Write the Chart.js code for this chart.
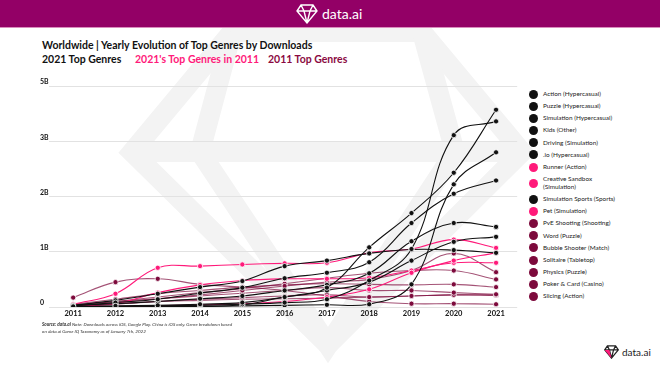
<!DOCTYPE html>
<html>
<head>
<meta charset="utf-8">
<script src="https://cdn.jsdelivr.net/npm/chart.js@4.4.1/dist/chart.umd.min.js"></script>
<style>
  body { margin: 0; width: 660px; height: 366px; background: #fff; font-family: Lato, "Noto Sans", sans-serif; position: relative; overflow: hidden; }
  .header { position: absolute; left: 0; top: 0; width: 660px; height: 27px; background: #930066; border-bottom: 1px solid #d98cbd; }
  .header .brand { position: absolute; left: 322px; top: 5px; color: #fff; font-size: 14px; }
  .title { position: absolute; left: 42px; top: 39px; font-size: 10.5px; font-weight: 700; color: #111; white-space: nowrap; }
  .sub { position: absolute; top: 53px; font-size: 10.5px; font-weight: 700; white-space: nowrap; }
  #wrap { position: absolute; left: 0; top: 68px; width: 522px; height: 256px; }
  #legend { position: absolute; left: 529px; top: 89.5px; font-size: 6.4px; color: #222; }
  #legend .item { display: flex; align-items: center; margin-bottom: 3.2px; }
  #legend .dot { width: 9px; height: 9px; border-radius: 50%; margin-right: 5px; flex: none; }
  #legend .txt { width: 77px; line-height: 8.3px; }
  .note { position: absolute; left: 42px; top: 321px; font-size: 4.6px; font-style: italic; color: #333; line-height: 7px; }
  .foot { position: absolute; left: 622px; top: 346px; font-size: 10px; color: #222; }
</style>
</head>
<body>
<svg style="position:absolute;left:0;top:0" width="660" height="366">
  <g fill="none" stroke="#f3f3f3" stroke-width="20" stroke-linejoin="miter">
    <path d="M232,32 L422,32 L522,152 L328,345 L132,152 Z"/>
    <path d="M132,152 L522,152"/>
    <path d="M232,32 L200,152 L328,345 L455,152 L422,32"/>
  </g>
</svg>
<div class="header">
  <svg style="position:absolute;left:296px;top:4px" width="22" height="20" viewBox="0 0 22 20">
    <path d="M5,1 L17,1 L21,7 L11,19 L1,7 Z M1,7 L21,7 M5,1 L8,7 L11,19 L14,7 L17,1" fill="none" stroke="#fff" stroke-width="1.4"/>
  </svg>
  <div class="brand">data.ai</div>
</div>
<div class="title">Worldwide | Yearly Evolution of Top Genres by Downloads</div>
<div class="sub" style="left:42px;color:#111">2021 Top Genres</div>
<div class="sub" style="left:135px;color:#ff1a7a">2021's Top Genres in 2011</div>
<div class="sub" style="left:268px;color:#8b0a3f">2011 Top Genres</div>
<div id="wrap"><canvas id="myChart"></canvas></div>
<div id="legend"></div>
<div class="note"><b>Source: data.ai</b> Note: Downloads across iOS, Google Play. China is iOS only. Genre breakdown based<br>on data.ai Game IQ Taxonomy as of January 7th, 2022</div>
<svg style="position:absolute;left:604px;top:345px" width="15" height="14" viewBox="0 0 22 20">
  <path d="M5,1 L17,1 L21,7 L11,19 L1,7 Z M1,7 L21,7 M5,1 L8,7 L11,19 L14,7 L17,1" fill="none" stroke="#222" stroke-width="1.8"/>
  <path d="M1,7 L11,19 L8,7 Z" fill="#ff1a7a"/>
</svg>
<div class="foot">data.ai</div>
<script>
// years on the x axis
const years = [2011, 2012, 2013, 2014, 2015, 2016, 2017, 2018, 2019, 2020, 2021]
// y axis labels, as printed on the source (top one reads 5B)
const yLabels = ['0', '1B', '2B', '3B', '5B']

// downloads in billions, 2011..2021
// 2021 top genres
const actionHypercasual = [0.01, 0.02, 0.03, 0.05, 0.08, 0.18, 0.35, 1.08, 1.70, 2.43, 3.57]
const puzzleHypercasual = [0.01, 0.01, 0.02, 0.03, 0.05, 0.08, 0.14, 0.48, 1.05, 3.11, 3.36]
const simulationHypercasual = [0.00, 0.00, 0.01, 0.01, 0.02, 0.03, 0.04, 0.05, 0.41, 2.22, 2.80]
const kidsOther = [0.02, 0.08, 0.14, 0.25, 0.35, 0.52, 0.62, 0.81, 1.52, 2.05, 2.29]
const drivingSimulation = [0.03, 0.06, 0.10, 0.15, 0.20, 0.30, 0.40, 0.61, 1.19, 1.52, 1.45]
const ioHypercasual = [0.00, 0.00, 0.00, 0.01, 0.04, 0.18, 0.30, 0.45, 0.84, 1.18, 1.27]
const simulationSports = [0.03, 0.12, 0.24, 0.36, 0.47, 0.74, 0.84, 0.97, 1.04, 1.03, 0.98]
// 2021's top genres in 2011
const runnerAction = [0.05, 0.24, 0.71, 0.74, 0.77, 0.79, 0.80, 0.98, 1.05, 1.22, 1.07]
const creativeSandbox = [0.00, 0.01, 0.02, 0.04, 0.06, 0.10, 0.18, 0.32, 0.62, 0.84, 0.98]
const petSimulation = [0.02, 0.06, 0.26, 0.40, 0.48, 0.51, 0.51, 0.53, 0.66, 0.80, 0.80]
// 2011 top genres
const pveShooting = [0.02, 0.08, 0.15, 0.22, 0.30, 0.38, 0.45, 0.50, 0.66, 0.97, 0.63]
const wordPuzzle = [0.03, 0.10, 0.18, 0.26, 0.33, 0.42, 0.52, 0.61, 0.66, 0.66, 0.50]
const bubbleShooter = [0.05, 0.14, 0.24, 0.30, 0.36, 0.40, 0.42, 0.41, 0.40, 0.41, 0.36]
const solitaireTabletop = [0.04, 0.10, 0.15, 0.20, 0.25, 0.30, 0.35, 0.30, 0.30, 0.26, 0.23]
const physicsPuzzle = [0.02, 0.05, 0.10, 0.14, 0.17, 0.20, 0.22, 0.18, 0.20, 0.22, 0.22]
const pokerCard = [0.03, 0.06, 0.10, 0.12, 0.14, 0.15, 0.16, 0.18, 0.20, 0.22, 0.21]
const slicingAction = [0.17, 0.45, 0.51, 0.41, 0.36, 0.30, 0.20, 0.10, 0.06, 0.06, 0.05]

const black = '#111111'
const pink = '#ff1a7a'
const maroon = '#7d0a3c'

const series = [
    ['Action (Hypercasual)', actionHypercasual, black],
    ['Puzzle (Hypercasual)', puzzleHypercasual, black],
    ['Simulation (Hypercasual)', simulationHypercasual, black],
    ['Kids (Other)', kidsOther, black],
    ['Driving (Simulation)', drivingSimulation, black],
    ['.io (Hypercasual)', ioHypercasual, black],
    ['Runner (Action)', runnerAction, pink],
    ['Creative Sandbox (Simulation)', creativeSandbox, pink],
    ['Simulation Sports (Sports)', simulationSports, black],
    ['Pet (Simulation)', petSimulation, pink],
    ['PvE Shooting (Shooting)', pveShooting, maroon],
    ['Word (Puzzle)', wordPuzzle, maroon],
    ['Bubble Shooter (Match)', bubbleShooter, maroon],
    ['Solitaire (Tabletop)', solitaireTabletop, maroon],
    ['Physics (Puzzle)', physicsPuzzle, maroon],
    ['Poker & Card (Casino)', pokerCard, maroon],
    ['Slicing (Action)', slicingAction, maroon],
]

const datasets = series.map(([name, values, color]) => ({
    label: name,
    data: values.map((v, i) => ({ x: years[i], y: v })),
    borderColor: color === maroon ? 'rgba(125, 10, 60, 0.7)' : color,
    backgroundColor: color,
    pointBackgroundColor: color,
    pointBorderColor: '#fff',
    pointBorderWidth: 0.8,
    pointRadius: 2.6,
    borderWidth: 1.1,
    tension: 0.4,
    fill: false,
    order: color === black ? 0 : (color === pink ? 1 : 2),
}))

let ctx = document.getElementById('myChart').getContext('2d')
const myChart = new Chart(ctx, {
    type: 'line',
    data: { datasets },
    options: {
        responsive: true,
        maintainAspectRatio: false,
        animation: false,
        layout: { padding: { left: 40, right: 2, top: 18, bottom: 4 } },
        plugins: { legend: { display: false }, tooltip: { enabled: false } },
        scales: {
            x: {
                type: 'linear',
                min: 2010.42,
                max: 2021.5,
                afterBuildTicks: (scale) => { scale.ticks = years.map(v => ({ value: v })) },
                grid: { display: false, drawTicks: false },
                border: { display: false },
                ticks: {
                    callback: (v) => String(v),
                    color: '#111',
                    padding: 2,
                    maxRotation: 0,
                    font: { family: 'Lato', size: 7.5, weight: 'bold' },
                },
            },
            y: {
                min: 0,
                max: 4,
                ticks: {
                    stepSize: 1,
                    callback: (v) => yLabels[v],
                    color: '#111',
                    padding: 0,
                    labelOffset: -4,
                    crossAlign: 'far',
                    font: { family: 'Lato', size: 7, weight: 'bold' },
                },
                grid: { color: '#e2e2e2', lineWidth: 1, drawTicks: false },
                border: { display: false },
            },
        },
    },
})

// legend built from the chart's datasets
const legend = document.getElementById('legend')
myChart.data.datasets.forEach(ds => {
    const item = document.createElement('div')
    item.className = 'item'
    item.innerHTML = '<span class="dot" style="background:' + ds.backgroundColor + '"></span><span class="txt"></span>'
    item.querySelector('.txt').textContent = ds.label
    legend.appendChild(item)
})
</script>
</body>
</html>
